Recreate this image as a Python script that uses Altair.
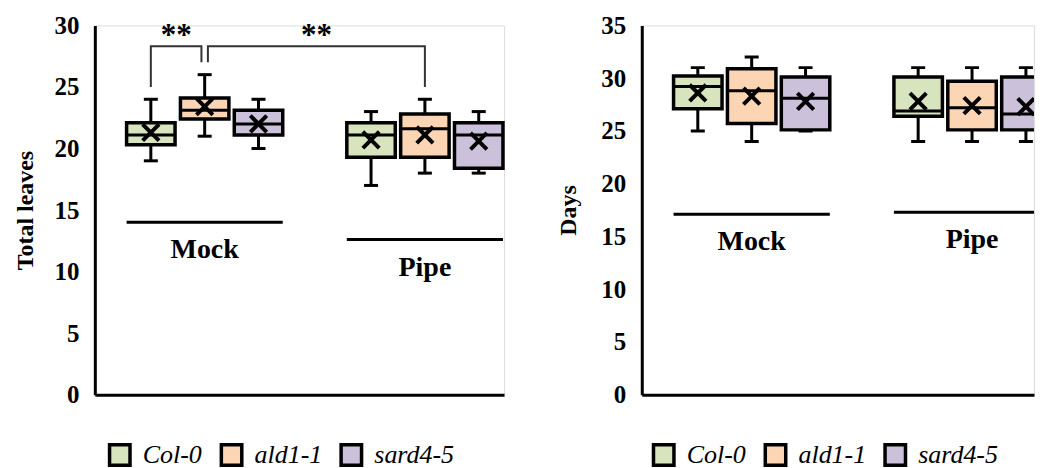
import altair as alt
import pandas as pd

# ---------------- data ----------------
genotypes = ["Col-0", "ald1-1", "sard4-5"]
treatments = ["Mock", "Pipe"]
fill_colors = ["#D7E4BD", "#FCD5B5", "#CCC1DA"]

# order of boxes: Mock Col-0, Mock ald1-1, Mock sard4-5, Pipe Col-0, Pipe ald1-1, Pipe sard4-5
leaves_min = [19, 21, 20, 17, 18, 18]
leaves_q1 = [20.3, 22.4, 21.1, 19.3, 19.3, 18.4]
leaves_med = [21.1, 23.1, 22.0, 21.1, 21.6, 21.1]
leaves_q3 = [22.1, 24.1, 23.1, 22.1, 22.8, 22.1]
leaves_max = [24, 26, 24, 23, 24, 23]
leaves_mean = [21.3, 23.4, 22.0, 20.7, 21.1, 20.6]

days_min = [25, 24, 25, 24, 24, 24]
days_q1 = [27.1, 25.7, 25.1, 26.4, 25.1, 25.1]
days_med = [29.2, 28.8, 28.1, 26.9, 27.2, 26.6]
days_q3 = [30.2, 30.9, 30.1, 30.1, 29.7, 30.1]
days_max = [31, 32, 31, 31, 31, 31]
days_mean = [28.6, 28.3, 27.8, 27.8, 27.4, 27.3]

# treatment underline levels (y value of the line under each group)
leaves_group_line = [14.0, 12.6]
days_group_line = [17.1, 17.3]

# significance brackets on the leaves panel
sig_text = ["**", "**"]
sig_from = [("Mock", "Col-0"), ("Mock", "ald1-1")]
sig_to = [("Mock", "ald1-1"), ("Pipe", "ald1-1")]
sig_top = [28.3, 28.3]
sig_leg_from = [25.0, 27.0]
sig_leg_to = [27.0, 25.0]

# ---------------- layout helpers ----------------
group_offset = {"Mock": 1.04, "Pipe": 5.13}
HALF = 0.45
CAP = 0.13
FONT = "Liberation Serif"


def pos_of(t, g):
    return group_offset[t] + genotypes.index(g)


def box_df(mins, q1s, meds, q3s, maxs, means):
    rows = []
    i = 0
    for t in treatments:
        for g in genotypes:
            p = pos_of(t, g)
            rows.append(dict(treatment=t, genotype=g, pos=p, lo=p - HALF, hi=p + HALF,
                             clo=p - CAP, chi=p + CAP,
                             vmin=mins[i], q1=q1s[i], med=meds[i], q3=q3s[i],
                             vmax=maxs[i], mean=means[i]))
            i += 1
    return pd.DataFrame(rows)


def group_df(levels):
    rows = []
    for t, lv in zip(treatments, levels):
        first = pos_of(t, genotypes[0])
        last = pos_of(t, genotypes[-1])
        rows.append(dict(treatment=t, start=first - HALF, end=last + HALF,
                         center=(first + last) / 2, ly=lv))
    return pd.DataFrame(rows)


def panel(df, gdf, ymax, xmax, width, title, title_pad, legend_x, clip=False, extra=None):
    xs = alt.Scale(domain=[0, xmax], nice=False, zero=False)
    ys = alt.Scale(domain=[0, ymax], nice=False, zero=True)
    xaxis = alt.Axis(title=None, labels=False, ticks=False, grid=False,
                     domainWidth=3, domainColor="black")
    yaxis = alt.Axis(title=title, values=list(range(0, ymax + 1, 5)), ticks=False,
                     grid=False, domainWidth=3, domainColor="black",
                     labelFont=FONT, labelFontSize=25, labelFontWeight="bold",
                     labelColor="black", labelPadding=16,
                     titleFont=FONT, titleFontSize=24, titleFontWeight="bold",
                     titleColor="black", titlePadding=title_pad)
    base = alt.Chart(df)
    whisk = base.mark_rule(strokeWidth=3, color="black", clip=clip).encode(
        x=alt.X("pos:Q", scale=xs, axis=xaxis),
        y=alt.Y("vmin:Q", scale=ys, axis=yaxis),
        y2="vmax:Q")
    cap_hi = base.mark_rule(strokeWidth=3, color="black", clip=clip).encode(
        x="clo:Q", x2="chi:Q", y="vmax:Q")
    cap_lo = base.mark_rule(strokeWidth=3, color="black", clip=clip).encode(
        x="clo:Q", x2="chi:Q", y="vmin:Q")
    box = base.mark_bar(stroke="black", strokeWidth=3.5, strokeJoin="miter",
                        clip=clip).encode(
        x="lo:Q", x2="hi:Q", y="q1:Q", y2="q3:Q",
        fill=alt.Fill("genotype:N",
                      scale=alt.Scale(domain=genotypes, range=fill_colors),
                      legend=alt.Legend(orient="none", legendX=legend_x, legendY=417,
                                        direction="horizontal", title=None,
                                        symbolType="square", symbolSize=420,
                                        symbolStrokeColor="black",
                                        symbolStrokeWidth=3.5,
                                        labelFont=FONT, labelFontStyle="italic",
                                        labelFontSize=26, labelColor="black",
                                        labelOffset=10, columnPadding=11,
                                        padding=0)))
    med = base.mark_rule(strokeWidth=3, color="black", clip=clip).encode(
        x="lo:Q", x2="hi:Q", y="med:Q")
    mean = base.mark_point(shape="M-1,-1L1,1M1,-1L-1,1", size=270, strokeWidth=4,
                           color="black", filled=False, opacity=1,
                           clip=clip).encode(x="pos:Q", y="mean:Q")
    gbase = alt.Chart(gdf)
    gline = gbase.mark_rule(strokeWidth=3, color="black", clip=clip).encode(
        x="start:Q", x2="end:Q", y="ly:Q")
    glab = gbase.mark_text(font=FONT, fontSize=28, fontWeight="bold", color="black",
                           baseline="middle", dy=28).encode(
        x="center:Q", y="ly:Q", text="treatment:N")
    layers = [whisk, cap_hi, cap_lo, box, med, mean, gline, glab]
    if extra is not None:
        layers += extra
    return alt.layer(*layers).properties(width=width, height=370)


leaves_df = box_df(leaves_min, leaves_q1, leaves_med, leaves_q3, leaves_max, leaves_mean)
days_df = box_df(days_min, days_q1, days_med, days_q3, days_max, days_mean)

# brackets
brows = []
srows = []
for k in range(len(sig_text)):
    xa = pos_of(*sig_from[k]) + (0.06 if k == 1 else 0.0)
    xb = pos_of(*sig_to[k]) - (0.06 if k == 0 else 0.0)
    pts = [(xa, sig_leg_from[k]), (xa, sig_top[k]), (xb, sig_top[k]), (xb, sig_leg_to[k])]
    for o, (px, py) in enumerate(pts):
        brows.append(dict(bid=k, ord=o, bx=px, by=py))
    srows.append(dict(label=sig_text[k], sx=(xa + xb) / 2, sy=sig_top[k]))
bdf = pd.DataFrame(brows)
sdf = pd.DataFrame(srows)

brackets = alt.Chart(bdf).mark_line(strokeWidth=2, color="#333").encode(
    x="bx:Q", y="by:Q", detail="bid:N", order="ord:Q")
stars = alt.Chart(sdf).mark_text(font=FONT, fontSize=31, fontWeight="bold",
                                 color="black", baseline="middle", dy=-10).encode(
    x="sx:Q", y="sy:Q", text="label:N")

left = panel(leaves_df, group_df(leaves_group_line), 30, 7.6, 410, "Total leaves", 16, 12,
             extra=[brackets, stars])
right = panel(days_df, group_df(days_group_line), 35, 7.28, 393, "Days", 20, 9, clip=True)

chart = alt.hconcat(left, right, spacing=50).resolve_scale(
    x="independent", y="independent"
).resolve_legend(fill="independent").properties(
    padding={"left": 5, "top": 4, "right": 0, "bottom": 0}
).configure_view(stroke=None).configure(font=FONT, background="white")

chart.save("out.html", embed_options={"renderer": "svg", "actions": False})
